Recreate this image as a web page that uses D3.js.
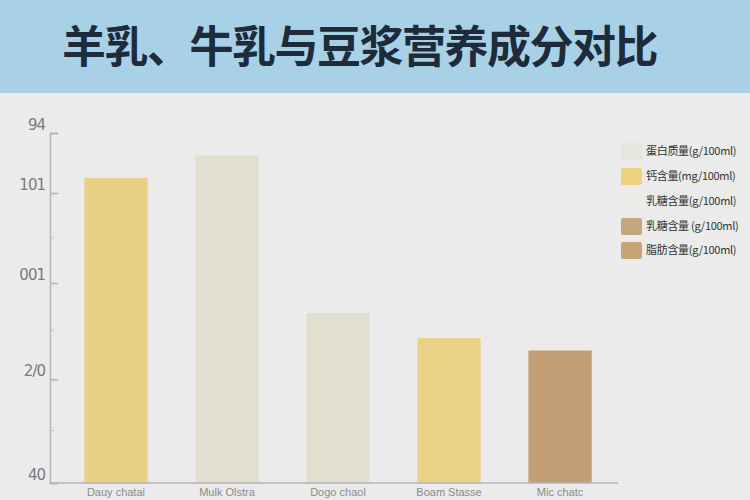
<!DOCTYPE html>
<html><head><meta charset="utf-8">
<script src="https://cdn.jsdelivr.net/npm/d3@7"></script>
<style>
html,body{margin:0;padding:0;background:#ebebeb;}
svg{display:block;}
</style></head>
<body>
<script>
const titleText = "羊乳、牛乳与豆浆营养成分对比";
const categories = ["Dauy chatai", "Mulk Olstra", "Dogo chaol", "Boam Stasse", "Mic chatc"];
const values = [122, 131, 68, 58, 53];
const barColors = ["#e8d085", "#e2dfd0", "#e2dfd0", "#e9d187", "#c19e74"];
const tickValues = [0, 41.5, 80, 116, 140];
const tickLabels = ["40", "2/0", "001", "101", "94"];
const minorTicks = [21, 61, 98];
const legendLabels = ["蛋白质量(g/100ml)", "钙含量(mg/100ml)", "乳糖含量(g/100ml)", "乳糖含量 (g/100ml)", "脂肪含量(g/100ml)"];
const legendColors = ["#e6e6da", "#ecd27f", "#ebebe6", "#c4a67c", "#c6a473"];

const W = 750, H = 500;
const svg = d3.select("body").append("svg").attr("width", W).attr("height", H);
svg.append("rect").attr("width", W).attr("height", H).attr("fill", "#ebebeb");

// header
svg.append("rect").attr("x", 0).attr("y", 0).attr("width", W).attr("height", 93).attr("fill", "#a8d0e7");
svg.append("text").attr("x", 62).attr("y", 63)
  .attr("font-family", "'Noto Sans CJK SC', sans-serif")
  .attr("font-weight", "bold").attr("font-size", 44).attr("letter-spacing", -1.5)
  .attr("fill", "#1d2b3b").text(titleText);

const x = d3.scaleBand().domain(categories).range([51, 625]).paddingInner(0.43).paddingOuter(0.3);
const y = d3.scaleLinear().domain([0, 140]).range([483, 133]);

// bars
svg.append("g").selectAll("rect").data(categories).join("rect")
  .attr("x", d => x(d)).attr("width", x.bandwidth())
  .attr("y", (d, i) => y(values[i])).attr("height", (d, i) => y(0) - y(values[i]))
  .attr("fill", (d, i) => barColors[i]);

// y axis
const yAxis = d3.axisRight(y).tickValues(tickValues).tickSize(8).tickFormat("");
const gy = svg.append("g").attr("transform", "translate(50,0)").call(yAxis);
gy.select(".domain").attr("stroke", "#b4b4b4").attr("stroke-width", 1.5);
gy.selectAll(".tick line").attr("stroke", "#b4b4b4").attr("stroke-width", 1.5);
svg.append("g").selectAll("line").data(minorTicks).join("line")
  .attr("x1", 50).attr("x2", 54).attr("y1", d => y(d)).attr("y2", d => y(d))
  .attr("stroke", "#c4c4c4").attr("stroke-width", 1);
svg.append("g").selectAll("text").data(tickValues).join("text")
  .attr("x", 45).attr("y", d => y(d) - 3)
  .attr("text-anchor", "end")
  .attr("font-family", "'DejaVu Sans', sans-serif").attr("font-size", 15)
  .attr("fill", "#7a7a7a").attr("letter-spacing", -1)
  .text((d, i) => tickLabels[i]);

// x axis
const xAxis = d3.axisBottom(x).tickSize(0).tickPadding(5);
const gx = svg.append("g").attr("transform", "translate(0,483)").call(xAxis);
gx.select(".domain").remove();
gx.append("line").attr("x1", 50).attr("x2", 618).attr("y1", 0).attr("y2", 0)
  .attr("stroke", "#b4b4b4").attr("stroke-width", 1.5);
gx.selectAll(".tick text")
  .attr("font-family", "'Liberation Sans', sans-serif").attr("font-size", 11)
  .attr("fill", "#8a8a8a");

// legend
const legendY = [151, 176, 201, 226, 250];
const lg = svg.append("g").selectAll("g").data(legendLabels).join("g")
  .attr("transform", (d, i) => `translate(621,${legendY[i]})`);
lg.append("rect").attr("x", 0).attr("y", -8).attr("width", 21).attr("height", 17)
  .attr("rx", 2).attr("fill", (d, i) => legendColors[i]);
lg.append("text").attr("x", 25).attr("y", 4)
  .attr("font-family", "'Noto Sans CJK SC', sans-serif").attr("font-size", 11)
  .attr("fill", "#333").attr("letter-spacing", -0.3)
  .text(d => d);
</script>
</body></html>
